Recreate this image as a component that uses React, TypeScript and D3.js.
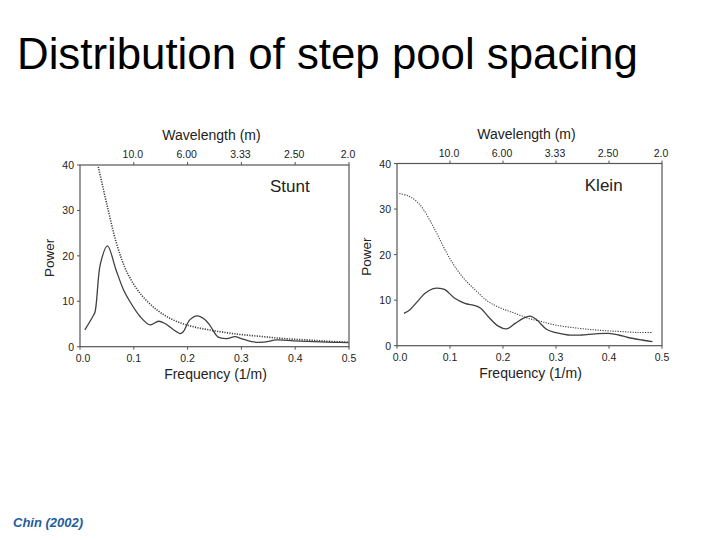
import React from "react";
import * as d3 from "d3";

const freqTicks = [0.0, 0.1, 0.2, 0.3, 0.4, 0.5];
const freqTickLabels = ["0.0", "0.1", "0.2", "0.3", "0.4", "0.5"];
const waveTicks = [0.1, 0.2, 0.3, 0.4, 0.5];
const waveTickLabels = ["10.0", "6.00", "3.33", "2.50", "2.0"];
const powerTicks = [0, 10, 20, 30, 40];

const stuntFreq = [0.009, 0.0235, 0.028, 0.038, 0.051, 0.067, 0.081, 0.093, 0.112, 0.13, 0.146, 0.158, 0.173, 0.186, 0.192, 0.204, 0.218, 0.232, 0.242, 0.257, 0.273, 0.288, 0.3, 0.319, 0.341, 0.366, 0.397, 0.434, 0.471, 0.499];
const stuntPower = [3.7, 6.6, 7.7, 18.3, 22.2, 16.9, 12.5, 9.9, 6.6, 4.8, 5.6, 5.1, 3.8, 2.9, 3.3, 5.9, 6.8, 6.0, 4.6, 2.1, 1.8, 2.2, 1.8, 1.1, 1.0, 1.5, 1.3, 1.1, 0.96, 0.9];
const stuntNullFreq = [0.034, 0.0496, 0.068, 0.087, 0.112, 0.143, 0.173, 0.204, 0.235, 0.266, 0.297, 0.328, 0.359, 0.39, 0.421, 0.452, 0.499];
const stuntNullPower = [39.6, 31.5, 22.7, 16.5, 11.7, 8.1, 5.9, 4.6, 3.8, 3.2, 2.7, 2.35, 2.0, 1.7, 1.5, 1.25, 1.0];

const kleinFreq = [0.013, 0.0245, 0.037, 0.053, 0.067, 0.081, 0.0906, 0.109, 0.128, 0.147, 0.158, 0.172, 0.191, 0.207, 0.223, 0.238, 0.251, 0.264, 0.282, 0.298, 0.323, 0.348, 0.374, 0.399, 0.418, 0.436, 0.462, 0.482];
const kleinPower = [7.1, 7.9, 9.5, 11.5, 12.5, 12.6, 12.3, 10.4, 9.3, 8.8, 8.2, 6.4, 4.3, 3.7, 4.9, 6.0, 6.5, 5.65, 3.6, 2.9, 2.35, 2.35, 2.6, 2.7, 2.35, 1.8, 1.25, 0.9];
const kleinNullFreq = [0.0044, 0.021, 0.037, 0.05, 0.065, 0.078, 0.094, 0.109, 0.128, 0.147, 0.172, 0.197, 0.223, 0.248, 0.273, 0.298, 0.33, 0.361, 0.392, 0.424, 0.455, 0.481];
const kleinNullPower = [33.4, 32.9, 31.7, 29.9, 26.9, 24.0, 20.3, 17.4, 14.5, 12.3, 9.7, 8.2, 7.1, 6.0, 5.3, 4.55, 4.0, 3.6, 3.3, 3.1, 2.9, 2.9];

type PanelProps = {
  x0: number; x1: number; y0: number; y1: number;
  name: string;
  freq: number[]; power: number[];
  nFreq: number[]; nPower: number[];
  nullWidth: number;
};

const FONT = "'Liberation Sans', Arial, sans-serif";
const INK = "#404040";

function Panel(p: PanelProps) {
  const x = d3.scaleLinear().domain([0, 0.5]).range([p.x0, p.x1]);
  const y = d3.scaleLinear().domain([0, 40]).range([p.y1, p.y0]);
  const line = d3.line<[number, number]>()
    .x(d => x(d[0]))
    .y(d => y(d[1]))
    .curve(d3.curveCatmullRom.alpha(0.5));
  const solid = line(p.freq.map((f, i) => [f, p.power[i]] as [number, number])) || "";
  const dotted = line(p.nFreq.map((f, i) => [f, p.nPower[i]] as [number, number])) || "";
  const cx = (p.x0 + p.x1) / 2;
  return (
    <g fontFamily={FONT} fill="#222">
      <rect x={p.x0} y={p.y0} width={p.x1 - p.x0} height={p.y1 - p.y0} fill="none" stroke="#555" strokeWidth={1.2} />
      {freqTicks.map((t, i) => (
        <g key={"b" + i}>
          <line x1={x(t)} x2={x(t)} y1={p.y1} y2={p.y1 + 3} stroke="#555" />
          <text x={x(t) + (i === 0 ? 3 : 0)} y={p.y1 + 15} fontSize={10.5} textAnchor="middle">{freqTickLabels[i]}</text>
        </g>
      ))}
      {waveTicks.map((t, i) => (
        <g key={"t" + i}>
          <line x1={x(t)} x2={x(t)} y1={p.y0} y2={p.y0 - 3} stroke="#555" />
          <text x={x(t) - 1} y={p.y0 - 7} fontSize={10.5} textAnchor="middle">{waveTickLabels[i]}</text>
        </g>
      ))}
      {powerTicks.map((t, i) => (
        <g key={"l" + i}>
          <line x1={p.x0} x2={p.x0 - 3} y1={y(t)} y2={y(t)} stroke="#555" />
          <text x={p.x0 - 6} y={y(t) + 4} fontSize={10.5} textAnchor="end">{t}</text>
        </g>
      ))}
      <text x={cx - 3} y={p.y0 - 25} fontSize={14} textAnchor="middle">Wavelength (m)</text>
      <text x={cx + 1} y={p.y1 + 32} fontSize={14} textAnchor="middle">Frequency (1/m)</text>
      <text transform={`translate(${p.x0 - 26},${(p.y0 + p.y1) / 2 + 2}) rotate(-90)`} fontSize={13.5} textAnchor="middle">Power</text>
      <text x={p.x0 + 0.78 * (p.x1 - p.x0)} y={p.y0 + 27} fontSize={17} textAnchor="middle">{p.name}</text>
      <path d={dotted} fill="none" stroke={INK} strokeWidth={p.nullWidth} strokeDasharray="1.2,1.3" />
      <path d={solid} fill="none" stroke={INK} strokeWidth={1.3} />
    </g>
  );
}

export default function App() {
  return (
    <svg width={720} height={540} style={{ display: "block", position: "absolute", left: 0, top: 0 }}>
      <rect width={720} height={540} fill="#fff" />
      <text x={17} y={69} fontFamily={FONT} fontSize={43.8} fill="#000">Distribution of step pool spacing</text>
      <Panel x0={80} x1={349} y0={165} y1={346.7} name="Stunt"
        freq={stuntFreq} power={stuntPower} nFreq={stuntNullFreq} nPower={stuntNullPower} nullWidth={1.6} />
      <Panel x0={397} x1={662} y0={163.5} y1={345.7} name="Klein"
        freq={kleinFreq} power={kleinPower} nFreq={kleinNullFreq} nPower={kleinNullPower} nullWidth={1.1} />
      <text x={13} y={527} fontFamily={FONT} fontSize={13} fontWeight="bold" fontStyle="italic" fill="#1f5c9e">Chin (2002)</text>
    </svg>
  );
}
